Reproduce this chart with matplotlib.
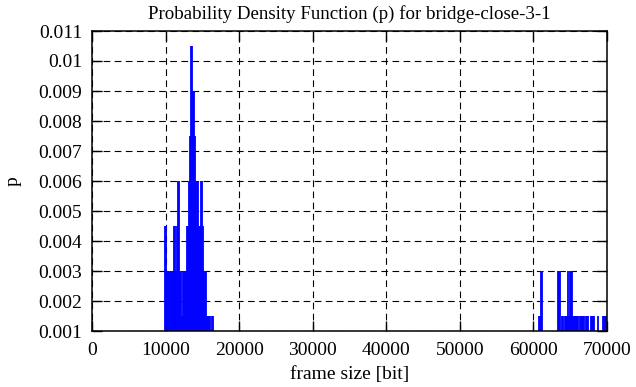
import numpy as np
import matplotlib.pyplot as plt
from matplotlib.ticker import FormatStrFormatter, FuncFormatter

# frame sizes [bit] and probability
frame_size = [
    9920, 10060, 10190, 10330, 10460, 10600, 10730, 10870, 11000, 11140,
    11140, 11280, 11410, 11550, 11690, 11830, 11960, 12100, 12230, 12370,
    12500, 12640, 12780, 12910, 13050, 13180, 13320, 13460, 13590, 13730,
    13860, 14000, 14130, 14270, 14400, 14540, 14680, 14810, 14950, 15080,
    15220, 15360, 15490, 15630, 15760, 15900, 16040, 16310, 16440,
    60750, 60890, 61020, 61160,
    63330, 63470, 63600, 63870, 64010, 64280, 64420, 64550, 64690, 64830,
    64960, 65100, 65240, 65370, 65510, 65640, 65780, 65920, 66050, 66320,
    66460, 66600, 66730, 66870, 67140, 67280, 67410, 67820, 67960, 68090,
    68230, 68770, 69450, 69590, 69730, 69860,
]
p = [
    0.0045, 0.0045, 0.003, 0.003, 0.003, 0.003, 0.003, 0.003, 0.003, 0.003,
    0.0045, 0.0045, 0.003, 0.0045, 0.006, 0.006, 0.003, 0.003, 0.0015, 0.003,
    0.003, 0.003, 0.003, 0.0045, 0.0045, 0.006, 0.0075, 0.0105, 0.0105, 0.009,
    0.009, 0.0075, 0.006, 0.006, 0.006, 0.0045, 0.0045, 0.006, 0.006, 0.0045,
    0.003, 0.003, 0.003, 0.0015, 0.0015, 0.0015, 0.0015, 0.0015, 0.0015,
    0.0015, 0.0015, 0.003, 0.003,
    0.003, 0.003, 0.003, 0.0015, 0.0015, 0.0015, 0.0015, 0.0015, 0.003, 0.0015,
    0.003, 0.003, 0.003, 0.0015, 0.0015, 0.0015, 0.0015, 0.0015, 0.0015, 0.0015,
    0.0015, 0.0015, 0.0015, 0.0015, 0.0015, 0.0015, 0.0015, 0.0015, 0.0015, 0.0015,
    0.0015, 0.0015, 0.0015, 0.0015, 0.0015, 0.0015,
]

x_ticks = [0, 10000, 20000, 30000, 40000, 50000, 60000, 70000]
y_ticks = [0.001, 0.002, 0.003, 0.004, 0.005, 0.006, 0.007, 0.008, 0.009, 0.01, 0.011]

plt.rcParams['font.family'] = ['Liberation Serif', 'DejaVu Serif']
plt.rcParams['font.size'] = 14

fig = plt.figure(figsize=(6.36, 3.87), dpi=100)
ax = fig.add_axes([92 / 636, 56 / 387, 515 / 636, 300 / 387])

ax.vlines(frame_size, 0, p, colors='#0000ff', linewidth=1.3)

ax.set_xlim(0, 70000)
ax.set_ylim(0.001, 0.011)
ax.set_xticks(x_ticks)
ax.set_yticks(y_ticks)
ax.xaxis.set_major_formatter(FormatStrFormatter('%d'))
ax.yaxis.set_major_formatter(FuncFormatter(lambda v, pos: '%g' % round(v, 4)))

ax.grid(True, color='black', linestyle=(0, (6, 4)), linewidth=0.8)
ax.set_axisbelow(True)
ax.tick_params(direction='in', length=7, width=1.0, top=True, right=True)
ax.tick_params(axis='y', pad=7)
ax.tick_params(axis='x', pad=8)
for s in ax.spines.values():
    s.set_linewidth(1.1)

ax.set_title('Probability Density Function (p) for bridge-close-3-1', fontsize=13.6, pad=9)
ax.set_xlabel('frame size [bit]', labelpad=5)
ax.set_ylabel('p', labelpad=12)

plt.savefig('out.png', dpi=100)
